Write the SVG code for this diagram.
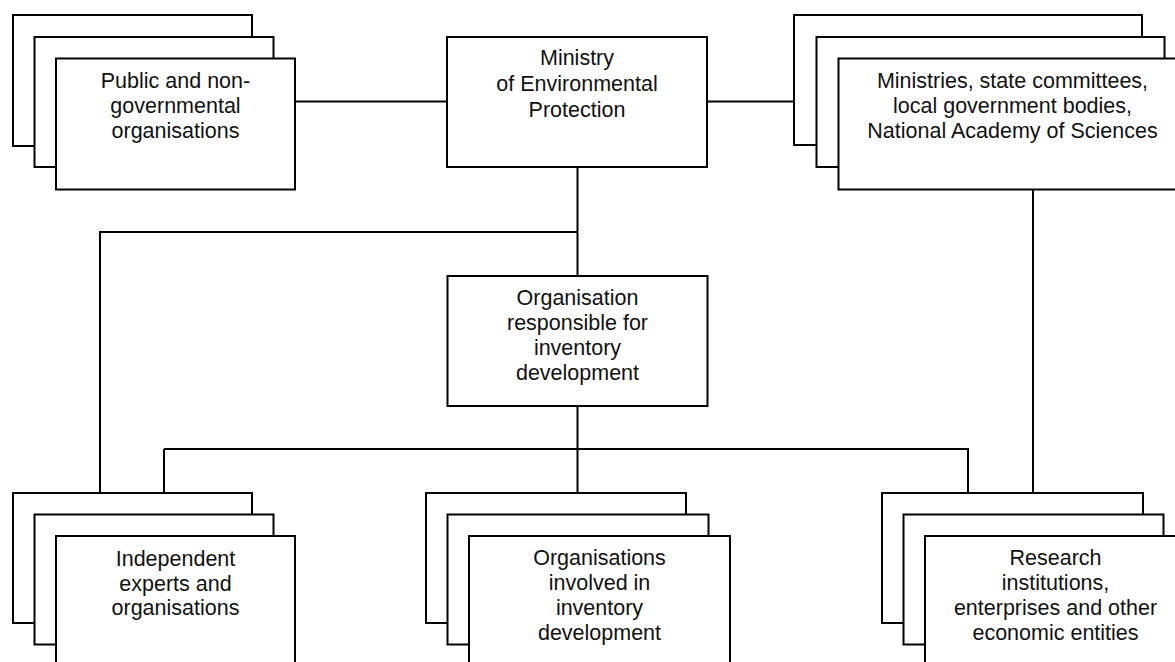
<svg xmlns="http://www.w3.org/2000/svg" width="1175" height="662" viewBox="0 0 1175 662">
<style>
.box{fill:#fff;stroke:#000;stroke-width:2}
.con{fill:none;stroke:#000;stroke-width:2}
text{font-family:"Liberation Sans",Arial,sans-serif;font-size:21.5px;fill:#111;text-anchor:middle}
</style>
<rect width="1175" height="662" fill="#fff"/>
<g id="connectors">
<path class="con" d="M295,101.5 H447"/>
<path class="con" d="M707,101.5 H794"/>
<path class="con" d="M577.5,167 V276"/>
<path class="con" d="M577.5,232 H100 V493"/>
<path class="con" d="M577.5,406 V493"/>
<path class="con" d="M164,449 H968 V493"/>
<path class="con" d="M164,449 V493"/>
<path class="con" d="M1033,189.5 V493"/>
</g>
<g id="public">
<rect class="box" x="13" y="15" width="239" height="131"/>
<rect class="box" x="34.5" y="37" width="239" height="130"/>
<rect class="box" x="56" y="58.5" width="239" height="131"/>
<text x="175.5" y="88">Public and non-</text>
<text x="175.5" y="113">governmental</text>
<text x="175.5" y="137.5">organisations</text>
</g>
<g id="ministry">
<rect class="box" x="447" y="37" width="260" height="130"/>
<text x="577" y="65">Ministry</text>
<text x="577" y="91">of Environmental</text>
<text x="577" y="116.5">Protection</text>
</g>
<g id="ministries">
<rect class="box" x="794" y="15" width="348" height="130"/>
<rect class="box" x="816.5" y="37" width="348" height="130"/>
<rect class="box" x="838.5" y="58.5" width="348" height="131"/>
<text x="1012.5" y="87.5">Ministries, state committees,</text>
<text x="1012.5" y="112.5">local government bodies,</text>
<text x="1012.5" y="137.5">National Academy of Sciences</text>
</g>
<g id="org">
<rect class="box" x="447.5" y="276" width="260" height="130"/>
<text x="577.5" y="305">Organisation</text>
<text x="577.5" y="330">responsible for</text>
<text x="577.5" y="355">inventory</text>
<text x="577.5" y="380">development</text>
</g>
<g id="independent">
<rect class="box" x="13" y="493" width="239" height="130"/>
<rect class="box" x="34.5" y="514.5" width="239" height="130"/>
<rect class="box" x="56" y="536" width="239" height="140"/>
<text x="175.5" y="566">Independent</text>
<text x="175.5" y="590.5">experts and</text>
<text x="175.5" y="615">organisations</text>
</g>
<g id="involved">
<rect class="box" x="426" y="493" width="260" height="130"/>
<rect class="box" x="447.5" y="514.5" width="261" height="130"/>
<rect class="box" x="469" y="536" width="261" height="140"/>
<text x="599.5" y="565">Organisations</text>
<text x="599.5" y="590">involved in</text>
<text x="599.5" y="615">inventory</text>
<text x="599.5" y="640">development</text>
</g>
<g id="research">
<rect class="box" x="882" y="493" width="261" height="130"/>
<rect class="box" x="903.5" y="514.5" width="260" height="130"/>
<rect class="box" x="925" y="536" width="261" height="140"/>
<text x="1055.5" y="565">Research</text>
<text x="1055.5" y="590">institutions,</text>
<text x="1055.5" y="615">enterprises and other</text>
<text x="1055.5" y="640">economic entities</text>
</g>
</svg>
